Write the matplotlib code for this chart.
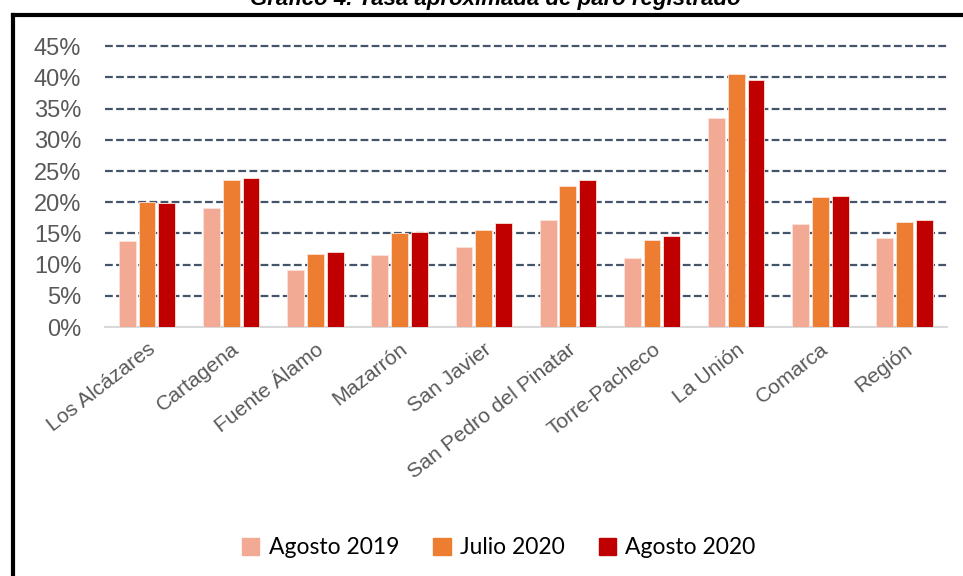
import numpy as np
import matplotlib.pyplot as plt
from matplotlib.lines import Line2D
from matplotlib.patches import Patch
from matplotlib.ticker import PercentFormatter

# datos (tasa aproximada de paro registrado, %)
municipios = ["Los Alcázares", "Cartagena", "Fuente Álamo", "Mazarrón", "San Javier",
              "San Pedro del Pinatar", "Torre-Pacheco", "La Unión", "Comarca", "Región"]
agosto_2019 = [13.8, 19.1, 9.2, 11.5, 12.8, 17.2, 11.1, 33.5, 16.5, 14.3]
julio_2020 = [20.1, 23.6, 11.7, 15.0, 15.6, 22.6, 14.0, 40.6, 20.8, 16.9]
agosto_2020 = [19.8, 23.9, 12.1, 15.3, 16.6, 23.6, 14.6, 39.6, 21.0, 17.2]
series = ["Agosto 2019", "Julio 2020", "Agosto 2020"]
colores = ["#F2AA94", "#ED7D31", "#C00000"]

fig = plt.figure(figsize=(9.63, 5.76), dpi=100)
ax = fig.add_axes([0.109, 0.432, 0.874, 0.488])

x = np.arange(len(municipios))
w = 0.2
for i, (vals, c) in enumerate(zip([agosto_2019, julio_2020, agosto_2020], colores)):
    ax.bar(x + (i - 1) * 0.235, vals, width=w, color=c, edgecolor="#FBE3DA",
           linewidth=0.6, zorder=3)

ax.set_xlim(-0.5, len(municipios) - 0.5)
ax.set_ylim(0, 45)
ax.set_yticks(np.arange(0, 46, 5))
ax.yaxis.set_major_formatter(PercentFormatter(decimals=0))
ax.set_xticks(x)
ax.set_xticklabels(municipios, rotation=38, ha="right", rotation_mode="anchor",
                   fontsize=15.2, color="#595959", family="Liberation Sans")
for t in ax.get_yticklabels():
    t.set_fontsize(17)
    t.set_color("#595959")
    t.set_family("Liberation Sans")
ax.tick_params(axis="y", length=0, pad=17)
ax.tick_params(axis="x", length=0, pad=9)

for y in np.arange(5, 46, 5):
    ax.axhline(y, color="#44546A", lw=1.6, ls=(0, (3.5, 1.5)), zorder=1, clip_on=False)
for s in ["top", "right", "left"]:
    ax.spines[s].set_visible(False)
ax.spines["bottom"].set_color("#D9D9D9")
ax.spines["bottom"].set_linewidth(1.5)

handles = [Patch(color=c) for c in colores]
fig.legend(handles, series, loc="center", bbox_to_anchor=(0.518, 0.049), ncol=3,
           frameon=False, prop={"family": "Lato", "size": 16.5},
           handlelength=0.75, handleheight=0.75, handletextpad=0.4, columnspacing=1.5)

# marco y título cortado
fig.add_artist(Line2D([13 / 963, 1], [1 - 15 / 576] * 2, color="black", lw=3))
fig.add_artist(Line2D([13 / 963] * 2, [0, 1 - 15 / 576], color="black", lw=3))
fig.text(0.514, 1 - 5 / 576, "Gráfico 4. Tasa aproximada de paro registrado",
         ha="center", va="baseline", fontsize=16, fontweight="bold", fontstyle="italic",
         family="Liberation Sans")

fig.savefig("out.png", dpi=100)
